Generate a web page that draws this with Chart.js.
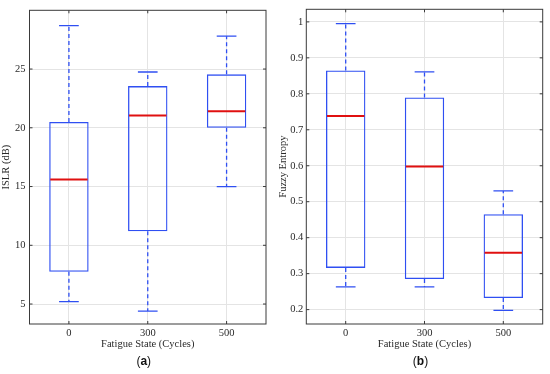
<!DOCTYPE html>
<html>
<head>
<meta charset="utf-8">
<script src="https://cdn.jsdelivr.net/npm/chart.js@4"></script>
<style>
  html, body { margin: 0; padding: 0; background: #fff; }
  #wrap { position: relative; width: 550px; height: 374px; }
  canvas { position: absolute; top: 0; }
</style>
</head>
<body>
<div id="wrap">
  <canvas id="chartA" width="275" height="374" style="left:0"></canvas>
  <canvas id="chartB" width="275" height="374" style="left:275px"></canvas>
</div>
<script>
var categories = ['0', '300', '500'];

// (a) ISLR box plot stats
var islrMin = [5.2, 4.4, 15.0];
var islrQ1 = [7.75, 11.2, 20.0];
var islrMed = [15.6, 21.05, 21.4];
var islrQ3 = [20.5, 23.55, 24.55];
var islrMax = [28.7, 24.75, 27.8];
var islrTicks = [5, 10, 15, 20, 25];

// (b) fuzzy entropy box plot stats
var fuzzyMin = [0.263, 0.263, 0.198];
var fuzzyQ1 = [0.316, 0.285, 0.232];
var fuzzyMed = [0.738, 0.598, 0.358];
var fuzzyQ3 = [0.865, 0.79, 0.465];
var fuzzyMax = [0.995, 0.861, 0.53];
var fuzzyTicks = [0.2, 0.3, 0.4, 0.5, 0.6, 0.7, 0.8, 0.9, 1];

var BLUE = '#2f4ff2';
var RED = '#e01010';
var TEXT = '#2a2a2a';
var SERIF = '"Liberation Serif", "Times New Roman", serif';

// whiskers, caps, medians, frame and inner tick marks
var boxPlugin = {
  id: 'boxParts',
  beforeDatasetsDraw: function(chart) {
    var st = chart.options.plugins.boxParts, x = chart.scales.x, y = chart.scales.y;
    var ctx = chart.ctx;
    var step = x.getPixelForValue(1) - x.getPixelForValue(0);
    ctx.save();
    ctx.strokeStyle = BLUE;
    ctx.lineWidth = 1.3;
    for (var i = 0; i < st.med.length; i++) {
      var cx = x.getPixelForValue(i);
      ctx.setLineDash([4, 3]);
      ctx.beginPath();
      ctx.moveTo(cx, y.getPixelForValue(st.q3[i]));
      ctx.lineTo(cx, y.getPixelForValue(st.max[i]));
      ctx.moveTo(cx, y.getPixelForValue(st.q1[i]));
      ctx.lineTo(cx, y.getPixelForValue(st.min[i]));
      ctx.stroke();
      ctx.setLineDash([]);
      ctx.beginPath();
      ctx.moveTo(cx - step * 0.125, y.getPixelForValue(st.max[i]));
      ctx.lineTo(cx + step * 0.125, y.getPixelForValue(st.max[i]));
      ctx.moveTo(cx - step * 0.125, y.getPixelForValue(st.min[i]));
      ctx.lineTo(cx + step * 0.125, y.getPixelForValue(st.min[i]));
      ctx.stroke();
    }
    ctx.restore();
  },
  afterDatasetsDraw: function(chart) {
    var st = chart.options.plugins.boxParts, x = chart.scales.x, y = chart.scales.y;
    var ctx = chart.ctx, a = chart.chartArea;
    var step = x.getPixelForValue(1) - x.getPixelForValue(0);
    ctx.save();
    ctx.strokeStyle = RED;
    ctx.lineWidth = 2;
    for (var i = 0; i < st.med.length; i++) {
      var cx = x.getPixelForValue(i), my = y.getPixelForValue(st.med[i]);
      ctx.beginPath();
      ctx.moveTo(cx - step * 0.25 + 1, my);
      ctx.lineTo(cx + step * 0.25 - 1, my);
      ctx.stroke();
    }
    // frame + inward ticks
    ctx.strokeStyle = '#3a3a3a';
    ctx.lineWidth = 1;
    ctx.strokeRect(a.left, a.top, a.right - a.left, a.bottom - a.top);
    ctx.beginPath();
    y.ticks.forEach(function(t) {
      var py = y.getPixelForValue(t.value);
      ctx.moveTo(a.left, py); ctx.lineTo(a.left + 3, py);
      ctx.moveTo(a.right, py); ctx.lineTo(a.right - 3, py);
    });
    x.ticks.forEach(function(t, i) {
      var px = x.getPixelForValue(i);
      ctx.moveTo(px, a.bottom); ctx.lineTo(px, a.bottom - 3);
      ctx.moveTo(px, a.top); ctx.lineTo(px, a.top + 3);
    });
    ctx.stroke();
    // panel letter, e.g. "(a)"
    var mid = (a.left + a.right) / 2 - 4, ty = 362;
    var parts = [['(', 'normal'], [st.letter, 'bold'], [')', 'normal']];
    var w = 0;
    parts.forEach(function(p) {
      ctx.font = p[1] + ' 12px "Liberation Sans", Arial, sans-serif';
      w += ctx.measureText(p[0]).width;
    });
    var px = mid - w / 2;
    ctx.fillStyle = '#111';
    ctx.textBaseline = 'middle';
    parts.forEach(function(p) {
      ctx.font = p[1] + ' 12px "Liberation Sans", Arial, sans-serif';
      ctx.fillText(p[0], px, ty);
      px += ctx.measureText(p[0]).width;
    });
    ctx.restore();
  }
};

function boxChart(id, o) {
  var ranges = o.q1.map(function(v, i) { return [v, o.q3[i]]; });
  return new Chart(document.getElementById(id), {
    type: 'bar',
    data: {
      labels: categories,
      datasets: [{
        data: ranges,
        backgroundColor: 'rgba(0,0,0,0)',
        borderColor: BLUE,
        borderWidth: 1.3,
        borderSkipped: false,
        categoryPercentage: 1,
        barPercentage: 0.5
      }]
    },
    options: {
      responsive: false,
      animation: false,
      events: [],
      layout: { padding: { left: 0, right: o.padRight, top: 7, bottom: 20 } },
      plugins: {
        legend: { display: false },
        tooltip: { enabled: false },
        boxParts: { min: o.min, q1: o.q1, med: o.med, q3: o.q3, max: o.max, letter: o.letter }
      },
      scales: {
        x: {
          offset: true,
          grid: { offset: false, color: '#e4e4e4', drawTicks: false },
          border: { display: false },
          ticks: { color: TEXT, padding: 3, font: { family: SERIF, size: 10.5 } },
          title: {
            display: true, text: 'Fatigue State (Cycles)', color: TEXT,
            padding: { top: 0, bottom: 3 }, font: { family: SERIF, size: 10.5 }
          },
          afterFit: function(s) { s.height = 30; }
        },
        y: {
          min: o.yMin,
          max: o.yMax,
          grid: { color: '#e4e4e4', drawTicks: false },
          border: { display: false },
          afterBuildTicks: function(s) { s.ticks = o.ticks.map(function(v) { return { value: v }; }); },
          ticks: {
            color: TEXT, padding: o.tickPad, font: { family: SERIF, size: 10.5 },
            callback: function(v) { return String(v); }
          },
          title: {
            display: true, text: o.title, color: TEXT,
            padding: { top: o.titlePad, bottom: 0 }, font: { family: SERIF, size: 10.5 }
          },
          afterFit: function(s) { s.width = o.axisWidth; }
        }
      }
    },
    plugins: [boxPlugin]
  });
}

boxChart('chartA', {
  min: islrMin, q1: islrQ1, med: islrMed, q3: islrQ3, max: islrMax,
  ticks: islrTicks, yMin: 3.3, yMax: 30, title: 'ISLR (dB)', letter: 'a',
  axisWidth: 29.5, padRight: 9, tickPad: 4, titlePad: 0
});

boxChart('chartB', {
  min: fuzzyMin, q1: fuzzyQ1, med: fuzzyMed, q3: fuzzyQ3, max: fuzzyMax,
  ticks: fuzzyTicks, yMin: 0.16, yMax: 1.035, title: 'Fuzzy Entropy', letter: 'b',
  axisWidth: 31.3, padRight: 7.3, tickPad: 3, titlePad: 1.5
});
</script>
</body>
</html>
